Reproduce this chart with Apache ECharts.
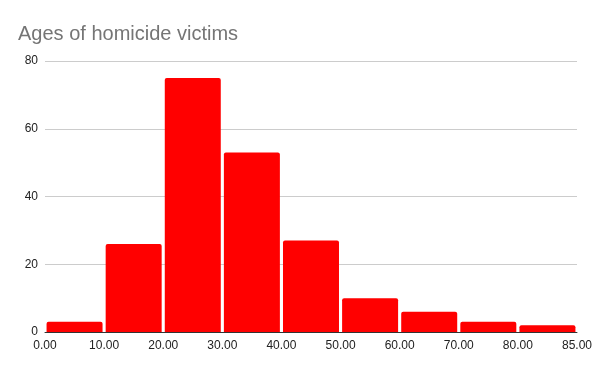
<!DOCTYPE html>
<html><head><meta charset="utf-8">
<script src="https://cdn.jsdelivr.net/npm/echarts@6/dist/echarts.min.js"></script>
<style>html,body{margin:0;padding:0;background:#fff}#c{width:595px;height:371px}</style>
</head><body><div id="c"></div>
<script>
const binLabels = ['0.00','10.00','20.00','30.00','40.00','50.00','60.00','70.00','80.00','85.00'];
const counts = [3, 26, 75, 53, 27, 10, 6, 3, 2];
const yTicks = [0, 20, 40, 60, 80];

const FONT = '"Liberation Sans", Arial, sans-serif';
const chart = echarts.init(document.getElementById('c'), null, {renderer:'canvas'});
chart.setOption({
  animation: false,
  backgroundColor: '#ffffff',
  title: {
    text: 'Ages of homicide victims', left: 13, top: 19,
    textStyle: {fontFamily: FONT, fontSize: 20, fontWeight: 'normal', color: '#757575'}
  },
  grid: {left: 45, right: 18, top: 61, bottom: 39},
  xAxis: {
    type: 'value', min: 0, max: counts.length, interval: 1,
    axisLine: {show: true, onZero: false, lineStyle: {color: '#333', width: 1}},
    axisTick: {show: false}, splitLine: {show: false},
    axisLabel: {color: '#222', fontFamily: FONT, fontSize: 12, margin: 8,
      formatter: v => binLabels[Math.round(v)] || ''}
  },
  yAxis: {
    type: 'value', min: yTicks[0], max: yTicks[yTicks.length-1], interval: 20,
    axisLine: {show: false}, axisTick: {show: false},
    splitLine: {lineStyle: {color: '#cccccc', width: 1}},
    axisLabel: {color: '#222', fontFamily: FONT, fontSize: 12, margin: 7}
  },
  series: [{
    type: 'bar',
    data: counts.map((v, i) => [i + 0.5, v]),
    barWidth: 56,
    itemStyle: {color: '#ff0000', borderRadius: [2, 2, 0, 0]}
  }]
});
</script></body></html>
